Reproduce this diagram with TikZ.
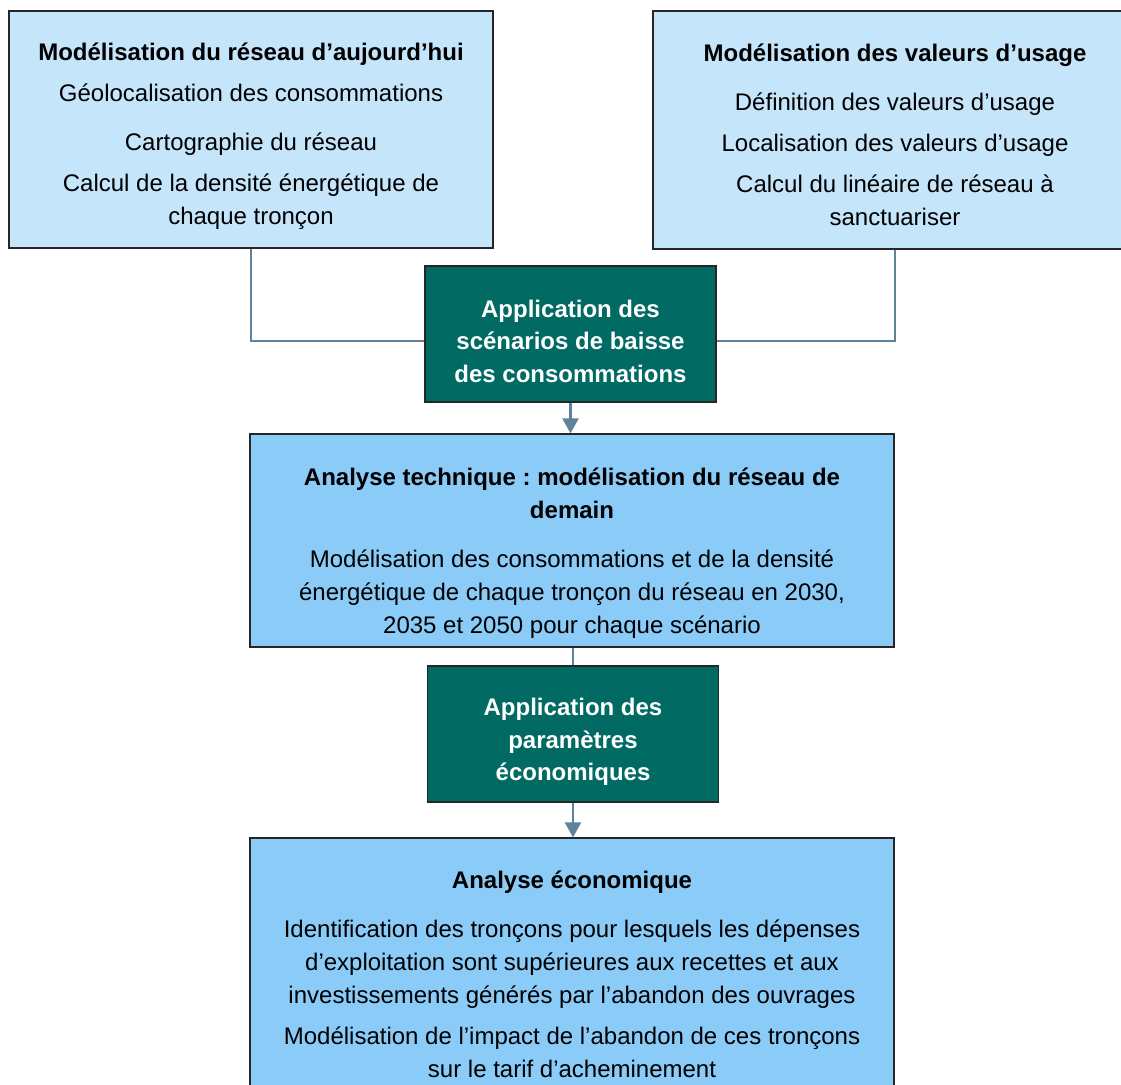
\documentclass[tikz,border=0pt]{standalone}
\usepackage{fontspec}
\setmainfont{Liberation Sans}
\usetikzlibrary{arrows.meta}
\frenchspacing

\definecolor{bleuclair}{HTML}{C5E5FA}
\definecolor{bleu}{HTML}{8BCBF7}
\definecolor{sarcelle}{HTML}{006A63}
\definecolor{lien}{HTML}{5F8499}

\begin{document}
\begin{tikzpicture}[x=1pt, y=-1pt,
    every node/.append style={font=\fontsize{24}{33}\selectfont, align=center, inner sep=0pt},
    bloc/.style={draw=black!85, line width=1.3pt, fill=#1},
    action/.style={bloc=sarcelle, minimum width=291pt, minimum height=136pt},
    blanc/.style={text=white, font=\fontsize{24}{32.5}\selectfont\bfseries},
    lien/.style={draw=lien, line width=2pt},
    fleche/.style={lien, line width=2.5pt, -{Triangle[width=16pt, length=15pt]}}
]

    \useasboundingbox (0,0) rectangle (1121,1084);
    \clip (0,0) rectangle (1121,1084);

    \def\ecart{\\[8pt]}     % small gap between two items
    \def\grand{\\[16pt]}    % larger gap between two items

    % top row
    \node[bloc=bleuclair, minimum width=484pt, minimum height=237pt] (aujourdhui) at (251,129.5) {};
    \node[yshift=-7pt] (aujourdhui-texte) at (aujourdhui)
        {\textbf{Modélisation du réseau d’aujourd’hui}\ecart
         Géolocalisation des consommations\grand
         Cartographie du réseau\ecart
         Calcul de la densité énergétique de\\
         chaque tronçon};
    \node[bloc=bleuclair, minimum width=484pt, minimum height=238pt] (usage) at (895,130) {};
    \node[yshift=-5pt] (usage-texte) at (usage)
        {\textbf{Modélisation des valeurs d’usage}\grand
         Définition des valeurs d’usage\ecart
         Localisation des valeurs d’usage\ecart
         Calcul du linéaire de réseau à\\
         sanctuariser};

    % scenarios
    \node[action] (scenarios) at (570.5,334) {};
    \node[blanc, yshift=-7pt] (scenarios-texte) at (scenarios)
        {Application des\\ scénarios de baisse\\ des consommations};

    \node[bloc=bleu, minimum width=644pt, minimum height=213pt] (technique) at (572,540.5) {};
    \node[yshift=-13pt] (technique-texte) at (technique)
        {\textbf{Analyse technique : modélisation du réseau de}\\
         \textbf{demain}\grand
         Modélisation des consommations et de la densité\\
         énergétique de chaque tronçon du réseau en 2030,\\
         2035 et 2050 pour chaque scénario};

    % parametres
    \node[action] (parametres) at (573,734) {};
    \node[blanc, yshift=-8pt] (parametres-texte) at (parametres)
        {Application des\\ paramètres\\ économiques};

    \node[bloc=bleu, minimum width=644pt, minimum height=262pt] (economique) at (572,969) {};
    \node[yshift=-5pt] (economique-texte) at (economique)
        {\textbf{Analyse économique}\grand
         Identification des tronçons pour lesquels les dépenses\\
         d’exploitation sont supérieures aux recettes et aux\\
         investissements générés par l’abandon des ouvrages\ecart
         Modélisation de l’impact de l’abandon de ces tronçons\\
         sur le tarif d’acheminement};

    % connectors
    \draw[lien] (aujourdhui.south) |- ([yshift=-7pt]scenarios.west);
    \draw[lien] (usage.south) |- ([yshift=-7pt]scenarios.east);
    \draw[fleche] (scenarios.south) -- (scenarios.south |- technique.north);
    \draw[lien] (technique.south -| parametres.north) -- (parametres.north);
    \draw[fleche] (parametres.south) -- (parametres.south |- economique.north);

\end{tikzpicture}
\end{document}
